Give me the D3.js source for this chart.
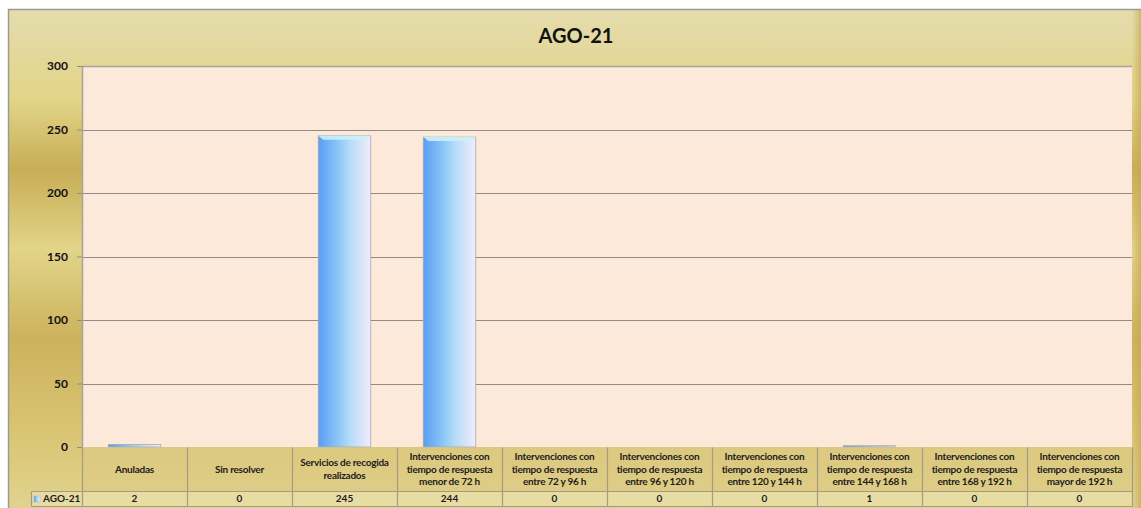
<!DOCTYPE html>
<html>
<head>
<meta charset="utf-8">
<script src="https://cdn.jsdelivr.net/npm/d3@7"></script>
<style>
  html, body { margin: 0; padding: 0; background: #fff; }
  svg { display: block; font-family: Lato, "Open Sans", sans-serif; }
</style>
</head>
<body>
<div id="chart"></div>
<script>
(function() {
  var title = "AGO-21";
  var seriesName = "AGO-21";
  var categories = [
    "Anuladas",
    "Sin resolver",
    "Servicios de recogida\nrealizados",
    "Intervenciones con\ntiempo de respuesta\nmenor de 72 h",
    "Intervenciones con\ntiempo de respuesta\nentre 72 y 96 h",
    "Intervenciones con\ntiempo de respuesta\nentre 96 y 120 h",
    "Intervenciones con\ntiempo de respuesta\nentre 120 y 144 h",
    "Intervenciones con\ntiempo de respuesta\nentre 144 y 168 h",
    "Intervenciones con\ntiempo de respuesta\nentre 168 y 192 h",
    "Intervenciones con\ntiempo de respuesta\nmayor de 192 h"
  ];
  var values = [2, 0, 245, 244, 0, 0, 0, 1, 0, 0];
  var yTicks = [0, 50, 100, 150, 200, 250, 300];

  var width = 1141, height = 508;
  var plot = { left: 82, right: 1132, top: 66, bottom: 447 };
  var headerBottom = 491, valueBottom = 506, legendLeft = 31;

  var rows = categories.map(function(c, i) { return { cat: c, value: values[i] }; });

  var svg = d3.select("#chart").append("svg")
    .attr("width", width).attr("height", height);
  var defs = svg.append("defs");

  // chart area background (gold)
  var bg = defs.append("linearGradient").attr("id", "bg")
    .attr("x1", 0).attr("y1", 0).attr("x2", 0).attr("y2", 1);
  [[0, "#e5dcae"], [0.1, "#e3d798"], [0.18, "#e2d588"], [0.32, "#c8ad56"],
   [0.48, "#e2d489"], [0.66, "#ccb25c"], [0.84, "#d9c472"], [1, "#e1d38e"]]
    .forEach(function(s) {
      bg.append("stop").attr("offset", s[0]).attr("stop-color", s[1]);
    });
  var bgSide = defs.append("linearGradient").attr("id", "bgSide")
    .attr("x1", 0).attr("y1", 0).attr("x2", 1).attr("y2", 0);
  bgSide.append("stop").attr("offset", 0).attr("stop-color", "#c9ae58").attr("stop-opacity", 0);
  bgSide.append("stop").attr("offset", 1).attr("stop-color", "#c4a850").attr("stop-opacity", 0.7);

  // bar gradient
  var barGrad = defs.append("linearGradient").attr("id", "bar")
    .attr("x1", 0).attr("y1", 0).attr("x2", 1).attr("y2", 0);
  [[0, "#5b9df4"], [0.35, "#86c3f7"], [0.6, "#b4dcf8"], [1, "#f2ecfb"]]
    .forEach(function(s) {
      barGrad.append("stop").attr("offset", s[0]).attr("stop-color", s[1]);
    });

  svg.append("rect").attr("x", 8).attr("y", 10)
    .attr("width", width - 8).attr("height", height - 10)
    .attr("fill", "url(#bg)");
  svg.append("rect").attr("x", plot.right).attr("y", 10)
    .attr("width", width - plot.right).attr("height", height - 10)
    .attr("fill", "url(#bgSide)");
  svg.append("path")
    .attr("d", "M8.5," + height + "V9.5H" + width)
    .attr("fill", "none").attr("stroke", "#9b9b95").attr("stroke-width", 1.5);

  // title
  svg.append("text").attr("x", 576).attr("y", 43)
    .attr("text-anchor", "middle").attr("font-size", 20).attr("font-weight", "bold")
    .attr("fill", "#111").text(title);

  var x = d3.scaleBand().domain(categories)
    .range([plot.left, plot.right]).paddingInner(0.5).paddingOuter(0.25);
  var y = d3.scaleLinear().domain([0, 300]).range([plot.bottom, plot.top]);
  var step = x.step();
  var colLeft = function(c) { return x(c) - (step - x.bandwidth()) / 2; };

  // plot area
  svg.append("rect").attr("x", plot.left).attr("y", plot.top)
    .attr("width", plot.right - plot.left).attr("height", plot.bottom - plot.top)
    .attr("fill", "#fce9da");

  svg.append("g").selectAll("line").data(yTicks.slice(1)).join("line")
    .attr("x1", plot.left).attr("x2", plot.right)
    .attr("y1", function(d) { return Math.round(y(d)) + 0.5; })
    .attr("y2", function(d) { return Math.round(y(d)) + 0.5; })
    .attr("stroke", "#8f8c88").attr("stroke-width", 1.2);

  svg.append("path")
    .attr("d", "M" + (plot.left + 0.5) + "," + plot.bottom + "V" + (plot.top + 0.5) + "H" + plot.right)
    .attr("fill", "none").attr("stroke", "#a8a49c").attr("stroke-width", 1.5);

  var yAxis = d3.axisLeft(y).tickValues(yTicks).tickSize(5).tickPadding(9);
  var ya = svg.append("g").attr("transform", "translate(" + plot.left + ",0)").call(yAxis);
  ya.select(".domain").remove();
  ya.selectAll(".tick line").attr("stroke", "#8f8c88");
  ya.selectAll(".tick text").attr("font-size", 12).attr("font-weight", "bold")
    .attr("fill", "#111").attr("font-family", "Lato, sans-serif");

  // bars
  var bars = svg.append("g").selectAll("g").data(rows).join("g");
  bars.append("rect")
    .attr("x", function(d) { return x(d.cat); })
    .attr("y", function(d) { return y(d.value); })
    .attr("width", x.bandwidth())
    .attr("height", function(d) { return y(0) - y(d.value); })
    .attr("fill", "url(#bar)")
    .attr("stroke", function(d) { return d.value > 0 ? "#a9a7b0" : "none"; })
    .attr("stroke-width", 0.8);
  bars.filter(function(d) { return d.value > 10; }).append("path")
    .attr("d", function(d) {
      var x0 = x(d.cat), w = x.bandwidth(), t = y(d.value);
      return "M" + x0 + "," + t + "H" + (x0 + w) + "L" + (x0 + w - 5) + "," + (t + 4) +
        "H" + (x0 + 5) + "Z";
    })
    .attr("fill", "#c8f2fb").attr("opacity", 0.9);

  // data table
  var table = svg.append("g");
  var gridColor = "#a39c82";
  table.append("rect").attr("x", plot.left).attr("y", plot.bottom)
    .attr("width", plot.right - plot.left).attr("height", headerBottom - plot.bottom)
    .attr("fill", "#dccb85").attr("opacity", 0.55);
  table.append("rect").attr("x", legendLeft).attr("y", headerBottom)
    .attr("width", plot.right - legendLeft).attr("height", valueBottom - headerBottom)
    .attr("fill", "#e8dfa8").attr("opacity", 0.8);

  var lines = [];
  categories.forEach(function(c) {
    lines.push([colLeft(c), plot.bottom, colLeft(c), valueBottom]);
  });
  lines.push([plot.right, plot.bottom, plot.right, valueBottom]);
  lines.push([plot.left, headerBottom, plot.right, headerBottom]);
  lines.push([legendLeft, headerBottom, legendLeft, valueBottom]);
  lines.push([legendLeft, headerBottom, plot.left, headerBottom]);
  lines.push([legendLeft, valueBottom, plot.right, valueBottom]);
  table.selectAll("line").data(lines).join("line")
    .attr("x1", function(d) { return Math.round(d[0]) + 0.5; })
    .attr("y1", function(d) { return Math.round(d[1]) + 0.5; })
    .attr("x2", function(d) { return Math.round(d[2]) + 0.5; })
    .attr("y2", function(d) { return Math.round(d[3]) + 0.5; })
    .attr("stroke", gridColor).attr("stroke-width", 1.2);

  var lh = 12.5;
  table.selectAll("text.cat").data(categories).join("text")
    .attr("class", "cat")
    .attr("text-anchor", "middle").attr("font-size", 10).attr("font-weight", "bold")
    .attr("fill", "#1c1c1c").attr("letter-spacing", -0.25)
    .each(function(d) {
      var parts = d.split("\n");
      var cx = x(d) + x.bandwidth() / 2;
      var mid = (plot.bottom + headerBottom) / 2 + 3.5;
      var t = d3.select(this);
      parts.forEach(function(p, k) {
        t.append("tspan").attr("x", cx)
          .attr("y", mid + (k - (parts.length - 1) / 2) * lh).text(p);
      });
    });

  table.selectAll("text.val").data(rows).join("text")
    .attr("class", "val")
    .attr("x", function(d) { return x(d.cat) + x.bandwidth() / 2; })
    .attr("y", valueBottom - 4)
    .attr("text-anchor", "middle").attr("font-size", 10).attr("font-weight", "bold")
    .attr("fill", "#1c1c1c").text(function(d) { return d.value; });

  table.append("rect").attr("x", legendLeft + 3).attr("y", headerBottom + 5)
    .attr("width", 6).attr("height", 6).attr("fill", "url(#bar)")
    .attr("stroke", "#9fb6cc").attr("stroke-width", 0.5);
  table.append("text").attr("x", legendLeft + 12).attr("y", valueBottom - 4)
    .attr("font-size", 10).attr("font-weight", "bold").attr("fill", "#1c1c1c")
    .text(seriesName);
})();
</script>
</body>
</html>
